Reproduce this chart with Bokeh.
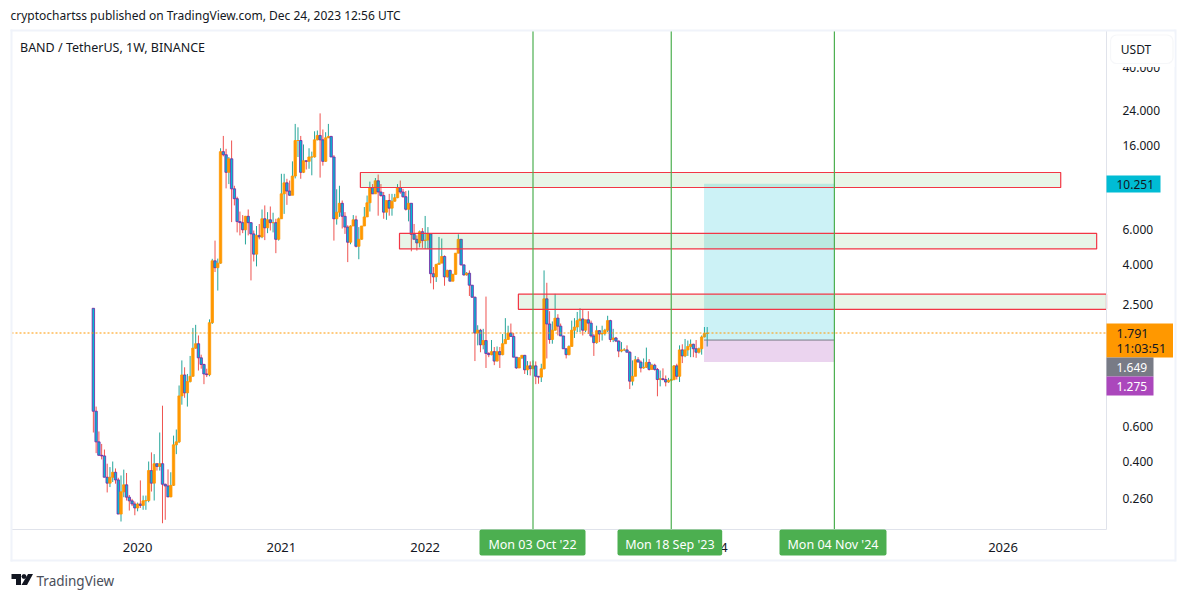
from datetime import datetime, timedelta
import math
import pandas as pd
from bokeh.plotting import figure
from bokeh.embed import file_html
from bokeh.resources import INLINE
from bokeh.models import (Range1d, FixedTicker, NumeralTickFormatter, DatetimeTickFormatter,
                          Label, BoxAnnotation, PolyAnnotation, ColumnDataSource)

first_week = "2019-09-16"
first_open = 2.39
closes = [0.718,0.502,0.429,0.426,0.332,0.31,0.332,0.352,0.322,0.216,
0.28,0.304,0.263,0.252,0.243,0.232,0.243,0.239,0.252,0.253,
0.359,0.31,0.389,0.377,0.389,0.306,0.30,0.264,0.302,0.485,
0.502,0.859,1.097,0.89,1.015,1.08,1.5,1.58,1.34,1.24,
1.11,1.10,2.02,4.16,3.84,4.05,14.9,14.37,11.7,13.7,
9.65,8.6,6.58,6.5,5.98,7.0,6.5,5.7,4.5,5.6,
5.5,6.8,6.12,6.72,6.5,6.5,5.35,6.8,9.1,10.35,
9.4,8.95,11.2,16.97,16.97,11.7,13.4,13.3,14.0,14.0,
17.1,18.0,17.1,13.3,17.5,17.8,14.0,6.8,7.35,8.15,
7.0,6.17,5.17,6.25,6.72,4.93,5.35,6.25,6.95,8.2,
9.8,9.1,10.6,9.3,8.92,7.35,8.42,7.7,8.35,8.7,
9.8,9.3,8.8,7.6,8.15,5.67,5.35,5.13,5.85,5.27,
5.3,5.7,3.58,3.45,3.99,4.05,4.38,3.45,3.72,3.28,
3.55,4.55,5.35,3.97,3.53,3.6,3.13,2.72,1.79,1.85,
1.56,1.64,1.41,1.39,1.44,1.29,1.44,1.39,1.58,1.66,
1.79,1.72,1.35,1.19,1.34,1.38,1.165,1.22,1.18,1.22,
1.08,1.07,1.18,2.67,1.99,1.66,1.85,2.13,1.94,1.73,
1.49,1.39,1.53,1.85,1.92,2.07,2.11,1.85,2.09,2.01,
1.73,1.6,1.84,1.77,1.78,1.85,2.07,1.66,1.69,1.63,
1.45,1.47,1.47,1.43,1.02,1.08,1.31,1.275,1.19,1.2,
1.27,1.17,1.23,1.17,1.04,1.05,1.04,1.01,1.03,1.04,
1.22,1.08,1.47,1.37,1.47,1.53,1.57,1.49,1.43,1.49,
1.71,1.78,1.791]
highs = [2.39,0.758,0.567,0.49,0.459,0.389,0.374,0.399,0.368,0.33,
0.339,0.363,0.349,0.27,0.258,0.25,0.247,0.32,0.268,0.268,
0.399,0.444,0.435,0.389,0.56,0.766,0.308,0.364,0.352,0.54,
0.58,0.97,1.30,1.2,1.11,1.37,1.9,1.97,1.74,1.39,
1.25,1.18,2.1,4.26,5.27,4.27,15.5,17.9,15.4,14.0,
16.97,10.0,8.8,7.4,7.1,7.03,7.58,6.54,5.93,6.25,
6.4,7.58,7.95,7.35,7.85,7.3,6.8,6.9,11.5,11.5,
10.85,10.63,13.3,20.6,19.8,17.9,16.2,13.43,15.5,14.9,
18.9,19.07,23.3,19.3,18.7,20.6,17.9,14.3,9.6,10.0,
8.42,7.35,6.3,6.3,7.1,7.05,6.17,6.25,7.8,8.92,
10.5,10.2,10.95,11.4,10.2,9.3,8.42,9.1,9.1,9.1,
10.2,10.63,9.65,9.4,9.46,8.15,6.4,5.6,5.93,6.1,
7.03,6.17,5.7,3.87,4.02,5.5,5.4,4.43,3.75,3.75,
3.58,4.55,5.67,5.35,3.97,3.65,3.72,3.13,2.74,1.96,
1.88,1.88,2.74,1.43,1.65,1.52,1.53,1.52,1.77,2.13,
1.95,2.0,1.79,1.35,1.35,1.385,1.385,1.29,1.285,1.3,
1.285,1.075,1.25,3.72,3.22,2.31,2.05,2.83,2.23,2.0,
1.73,1.49,1.55,2.07,2.13,2.29,2.39,2.35,2.09,2.31,
2.07,1.77,1.95,1.85,1.95,1.88,2.19,2.09,1.88,1.71,
1.64,1.61,1.5,1.55,1.45,1.3,1.37,1.35,1.3,1.33,
1.51,1.32,1.25,1.25,1.19,1.155,1.185,1.09,1.06,1.05,
1.23,1.25,1.55,1.57,1.67,1.64,1.66,1.58,1.65,1.51,
1.74,1.92,1.92]
lows = [0.56,0.44,0.427,0.409,0.332,0.278,0.296,0.314,0.308,0.216,
0.198,0.263,0.253,0.225,0.237,0.213,0.223,0.232,0.227,0.227,
0.248,0.281,0.253,0.359,0.359,0.194,0.202,0.263,0.263,0.30,
0.435,0.495,0.775,0.84,0.758,1.005,1.075,1.49,1.155,1.18,
0.985,1.07,1.08,1.99,3.65,2.94,4.02,14.1,9.7,10.2,
6.54,7.95,5.8,5.6,5.75,5.04,5.6,3.31,4.13,3.9,
5.35,5.42,5.3,5.75,5.93,5.8,4.55,5.27,6.8,7.2,
8.0,8.9,10.95,10.9,14.0,10.85,11.6,12.1,12.2,11.3,
13.9,17.0,11.0,12.65,13.2,17.5,14.0,5.27,6.35,6.95,
6.07,5.7,4.1,5.05,6.25,4.87,4.24,5.33,6.25,6.95,
7.4,9.1,9.1,7.05,8.8,6.8,6.72,7.05,7.05,8.3,
8.65,9.1,8.7,7.49,6.6,4.65,5.35,4.69,4.87,4.84,
4.78,4.78,3.2,2.98,3.25,3.99,4.05,3.11,3.42,3.28,
3.28,3.55,4.55,3.94,3.5,3.5,2.76,2.7,1.29,1.55,
1.43,1.48,1.19,1.35,1.38,1.23,1.285,1.19,1.38,1.58,
1.66,1.72,1.35,1.18,1.19,1.32,1.11,1.095,1.09,1.18,
0.985,0.99,1.01,1.17,1.33,1.58,1.58,1.84,1.74,1.73,
1.49,1.33,1.38,1.53,1.69,1.81,1.81,1.74,1.81,1.77,
1.70,1.37,1.58,1.61,1.64,1.74,1.81,1.61,1.61,1.61,
1.35,1.43,1.45,1.43,0.93,0.97,1.08,1.275,1.13,1.18,
1.19,1.155,1.165,1.155,0.855,0.96,1.03,0.96,1.0,1.02,
1.03,1.04,1.01,1.26,1.35,1.37,1.35,1.35,1.34,1.41,
1.39,1.70,1.53]

price_ticks = [40, 24, 16, 6, 4, 2.5, 0.6, 0.4, 0.26]
year_ticks = ["2020-01-06", "2021-01-04", "2022-01-03", "2023-01-02", "2024-01-01", "2025-01-06", "2026-01-05"]
marker_dates = ["2022-10-03", "2023-09-18", "2024-11-04"]
marker_labels = ["Mon 03 Oct '22", "Mon 18 Sep '23", "Mon 04 Nov '24"]
zone_starts = ["2021-07-23", "2021-10-30", "2022-08-27"]
zone_ends = ["2026-05-31", "2026-08-30", None]
zone_tops = [11.68, 5.73, 2.82]
zone_bottoms = [9.80, 4.78, 2.36]
position_start = "2023-12-10"
position_end = "2024-11-04"
target_price, entry_price, stop_price, last_price = 10.251, 1.649, 1.275, 1.791

FONT = "Noto Sans"
W, H = 1179, 591
dates = pd.date_range(first_week, periods=len(closes), freq="7D")
opens = [first_open] + closes[:-1]
ts = lambda s: pd.Timestamp(s)

# The plotting frame fills the canvas, so the chart pane is a sub-region of it.
anchor = datetime(2022, 10, 3)
WEEK_PX = 2.765
PX_PER_LN = 85.6
date_at = lambda px: anchor + timedelta(weeks=(px - 532.5) / WEEK_PX)
price_at = lambda py: 6 * math.exp((229 - py) / PX_PER_LN)
pane_left, pane_right = date_at(11), date_at(1106)
pane_top, pane_bottom = price_at(30), price_at(529)

p = figure(width=W, height=H, output_backend="svg", toolbar_location=None,
           x_axis_type="datetime", y_axis_type="log", y_axis_location="right",
           x_range=Range1d(date_at(0), date_at(W)), y_range=Range1d(price_at(H), price_at(0)),
           min_border_left=0, min_border_right=0, min_border_top=0, min_border_bottom=0,
           background_fill_color="white", border_fill_color="white", outline_line_color=None)
p.xgrid.visible = False
p.ygrid.visible = False

ax = p.xaxis[0]
ax.ticker = FixedTicker(ticks=[ts(t).timestamp() * 1000 for t in year_ticks])
ax.formatter = DatetimeTickFormatter(milliseconds="%Y", seconds="%Y", minsec="%Y", minutes="%Y", hourmin="%Y",
                                     hours="%Y", days="%Y", months="%Y", years="%Y")
ax.fixed_location = pane_bottom
ax.bounds = (ts(pane_left).timestamp() * 1000, ts(pane_right).timestamp() * 1000)
ay = p.yaxis[0]
ay.ticker = FixedTicker(ticks=price_ticks)
ay.formatter = NumeralTickFormatter(format="0.000")
ay.fixed_location = ts(pane_right).timestamp() * 1000
ay.bounds = (pane_bottom, pane_top)
for a in (ax, ay):
    a.axis_line_color = "#e0e3eb"
    a.major_tick_line_color = None
    a.minor_tick_line_color = None
    a.major_label_text_font = FONT
    a.major_label_text_color = "#131722"
ax.major_label_text_font_size = "13px"
ay.major_label_text_font_size = "12px"
ax.major_label_standoff = 7
ay.major_label_standoff = 10

# Candles
up = [c >= o for o, c in zip(opens, closes)]
src = ColumnDataSource(dict(
    t=dates, o=opens, c=closes, h=highs, l=lows,
    wick=["#26a69a" if u else "#ef5350" for u in up],
    fill=["#ff9800" if u else "#00bcd4" for u in up],
    edge=["#ff9800" if u else "#7b1fa2" for u in up]))
p.segment("t", "h", "t", "l", source=src, line_color="wick", line_width=1)
p.vbar(x="t", top="o", bottom="c", width=timedelta(weeks=2.4 / WEEK_PX), source=src,
       fill_color="fill", line_color="edge", line_width=0.8)

# Position tool
p.quad(left=[ts(position_start)], right=[ts(position_end)], top=[target_price], bottom=[entry_price],
       fill_color="#00bcd4", fill_alpha=0.2, line_color=None)
p.quad(left=[ts(position_start)], right=[ts(position_end)], top=[entry_price], bottom=[stop_price],
       fill_color="#9c27b0", fill_alpha=0.2, line_color=None)
p.segment([ts(position_start)], [entry_price], [ts(position_end)], [entry_price], line_color="#787b86", line_width=1)

# Zones
p.quad(left=[ts(s) for s in zone_starts], right=[ts(s) if s else pane_right for s in zone_ends],
       top=zone_tops, bottom=zone_bottoms,
       fill_color="#4caf50", fill_alpha=0.13, line_color="#f23645", line_width=1.2)

# Last price line
p.segment([pane_left], [last_price], [pane_right], [last_price], line_color="#ff9800", line_width=1.2, line_dash="2 2")

# Vertical markers
for d in marker_dates:
    p.segment([ts(d)], [pane_bottom], [ts(d)], [pane_top], line_color="#4caf50", line_width=1.2)

# Page furniture in page pixels, converted to the frame's screen coordinates
sx = lambda x: x
sy = lambda y: H - y

def box(l, t, r, b, color, line=None, radius=0, line_width=1):
    p.add_layout(BoxAnnotation(left=sx(l), right=sx(r), top=sy(t), bottom=sy(b),
                               left_units="screen", right_units="screen", top_units="screen", bottom_units="screen",
                               fill_color=color, fill_alpha=1, line_color=line, line_width=line_width,
                               border_radius=radius, level="annotation"))

def text(x, y, s, color="#131722", size="12px", align="left", baseline="middle"):
    p.add_layout(Label(x=sx(x), y=sy(y), x_units="screen", y_units="screen", text=s, text_color=color,
                       text_font=FONT, text_font_size=size, text_align=align, text_baseline=baseline))

def poly(pts, color="#131722"):
    p.add_layout(PolyAnnotation(xs=[sx(a) for a, _ in pts], ys=[sy(b) for _, b in pts],
                                xs_units="screen", ys_units="screen",
                                fill_color=color, fill_alpha=1, line_color=None))

# outer border
box(10, 29, 1175, 31, "#f0f3fa")
box(10, 559, 1175, 561, "#f0f3fa")
box(10, 29, 12, 561, "#f0f3fa")
box(1174, 29, 1176, 561, "#f0f3fa")

# USDT button, with the white halo that cuts the top tick label
box(1108, 33, 1174, 66.5, "white")
box(1110, 34.5, 1172.5, 63, "white", line="#e0e3eb", radius=6, line_width=1.2)
text(1135.5, 48.5, "USDT", align="center")

# Price tags
box(1106, 175, 1160, 192, "#00bcd4")
text(1116, 183.5, f"{target_price:.3f}")
box(1106, 323, 1172.5, 357, "#ff9800")
text(1116, 332.5, f"{last_price:.3f}", size="12.5px")
text(1116, 347.5, "11:03:51", size="12.5px")
box(1106, 357, 1153, 376, "#787b86")
text(1116, 367, f"{entry_price:.3f}", color="white")
box(1106, 376, 1153, 395, "#ab47bc")
text(1116, 385.5, f"{stop_price:.3f}", color="white")

# Date tags
for (l, r), s in zip([(479, 585), (617, 721.7), (779, 886)], marker_labels):
    box(l, 529, r, 555, "#4caf50", radius=2)
    text((l + r) / 2, 544, s, color="white", size="12.5px", align="center")

# Header, legend and footer
text(10, 15, "cryptochartss published on TradingView.com, Dec 24, 2023 12:56 UTC", size="12px")
text(19.5, 47, "BAND / TetherUS, 1W, BINANCE", size="12.5px")
text(36, 580, "TradingView", color="#4a4e59", size="13.5px")

poly([(11, 573.5), (20.5, 573.5), (20.5, 584.5), (15.5, 584.5), (15.5, 578.5), (11, 578.5)])
poly([(23.5, 573.5), (25.3, 574.3), (26, 576), (25.3, 577.7), (23.5, 578.5), (21.7, 577.7), (21, 576), (21.7, 574.3)])
poly([(27.5, 573.5), (32.5, 573.5), (26.5, 584.5), (21, 584.5)])

open("out.html", "w").write(file_html(p, INLINE))
